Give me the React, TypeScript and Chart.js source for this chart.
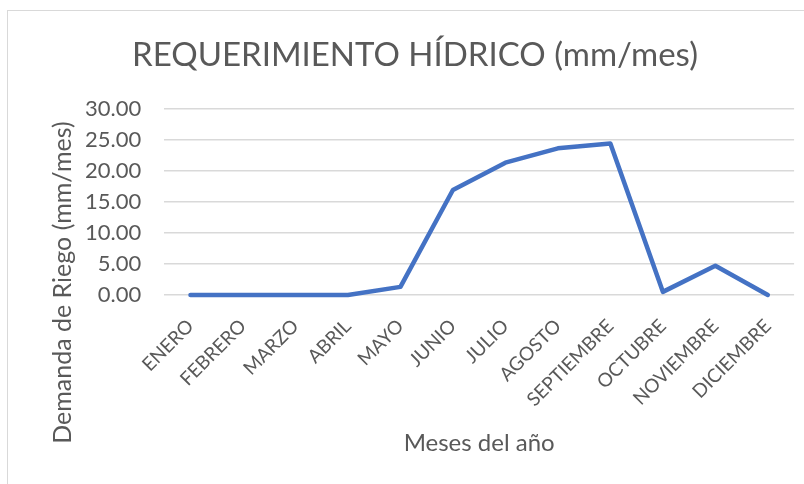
import React, { useEffect, useRef } from "react";
import { Chart, registerables } from "chart.js";

Chart.register(...registerables);

const TITLE = "REQUERIMIENTO HÍDRICO (mm/mes)";
const Y_TITLE = "Demanda de Riego (mm/mes)";
const X_TITLE = "Meses del año";
const MONTHS = [
  "ENERO", "FEBRERO", "MARZO", "ABRIL", "MAYO", "JUNIO",
  "JULIO", "AGOSTO", "SEPTIEMBRE", "OCTUBRE", "NOVIEMBRE", "DICIEMBRE",
];
const DEMANDA = [0, 0, 0, 0, 1.3, 16.9, 21.3, 23.6, 24.4, 0.5, 4.7, 0];
const Y_MIN = 0;
const Y_MAX = 30;
const Y_STEP = 5;

const FONT = "Lato, 'Open Sans', sans-serif";
const GRAY = "#595959";

const yTitlePlugin = {
  id: "yTitleCustom",
  afterDraw(chart: any) {
    const { ctx, chartArea } = chart;
    ctx.save();
    ctx.font = `25px ${FONT}`;
    ctx.fillStyle = GRAY;
    ctx.textAlign = "center";
    ctx.textBaseline = "middle";
    ctx.translate(63, chartArea.top + 174);
    ctx.rotate(-Math.PI / 2);
    ctx.fillText(Y_TITLE, 0, 0);
    ctx.restore();
  },
};

export default function App() {
  const ref = useRef<HTMLCanvasElement>(null);
  useEffect(() => {
    if (!ref.current) return;
    const chart = new Chart(ref.current, {
      type: "line",
      data: {
        labels: MONTHS,
        datasets: [
          {
            data: DEMANDA,
            borderColor: "#4472C4",
            backgroundColor: "#4472C4",
            borderWidth: 4.5,
            pointRadius: 0,
            tension: 0,
            borderCapStyle: "round",
            borderJoinStyle: "round",
            clip: false,
          } as any,
        ],
      },
      options: {
        animation: false,
        responsive: false,
        maintainAspectRatio: false,
        layout: { padding: { left: 27, right: 1, top: 0, bottom: 29 } },
        plugins: {
          legend: { display: false },
          tooltip: { enabled: false },
          title: {
            display: true,
            text: TITLE,
            color: GRAY,
            font: { family: FONT, size: 33, weight: "normal" },
            padding: { top: 36, bottom: 33 },
          },
        },
        scales: {
          x: {
            offset: true,
            grid: { display: false, drawTicks: false, offset: true },
            border: { display: false },
            ticks: {
              color: GRAY,
              font: { family: FONT, size: 19 },
              maxRotation: 45,
              minRotation: 45,
              autoSkip: false,
              padding: 20,
            },
            title: {
              display: true,
              text: X_TITLE,
              color: GRAY,
              font: { family: FONT, size: 24, lineHeight: 1 },
              padding: { top: 0, bottom: 0 },
            },
          },
          y: {
            min: Y_MIN,
            max: Y_MAX,
            grid: { color: "#d9d9d9", lineWidth: 1.5, drawTicks: false },
            border: { display: false },
            title: {
              display: true,
              text: Y_TITLE,
              color: "rgba(0,0,0,0)",
              font: { family: FONT, size: 25 },
              padding: { top: 2, bottom: 3 },
            },
            ticks: {
              stepSize: Y_STEP,
              autoSkip: false,
              maxTicksLimit: 20,
              color: GRAY,
              font: { family: FONT, size: 22 },
              padding: 23,
              callback: (v: any) => Number(v).toFixed(2),
            },
          },
        },
      },
      plugins: [yTitlePlugin],
    });
    return () => chart.destroy();
  }, []);

  return (
    <div
      style={{
        position: "absolute",
        left: 0,
        top: 0,
        width: 804,
        height: 484,
        overflow: "hidden",
        background: "#fff",
      }}
    >
      <div
        style={{
          position: "absolute",
          left: 7,
          top: 10,
          width: 830,
          height: 520,
          border: "1.5px solid #d9d9d9",
          boxSizing: "border-box",
        }}
      />
      <canvas
        ref={ref}
        width={804}
        height={484}
        style={{ position: "absolute", left: 0, top: 0, width: 804, height: 484 }}
      />
    </div>
  );
}
